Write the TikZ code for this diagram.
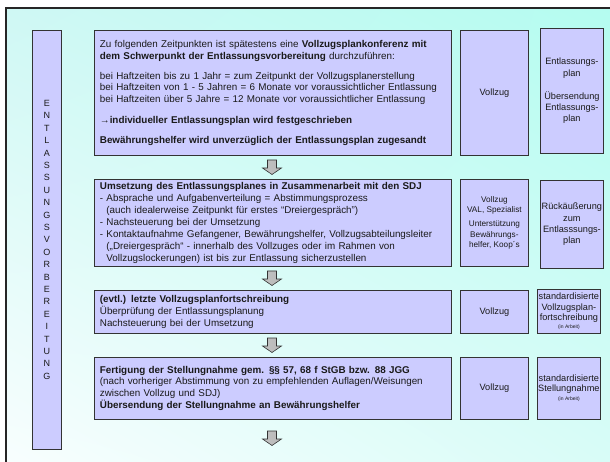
\documentclass[tikz,border=0pt]{standalone}
\usepackage{fontspec}
\setmainfont{Liberation Sans}
\usetikzlibrary{shadings}
\definecolor{boxfill}{HTML}{CCCCFF}
\definecolor{boxline}{HTML}{333333}
\definecolor{txt}{HTML}{1A1A1A}
\definecolor{bgUR}{HTML}{B4FCF0}
\definecolor{bgUL}{HTML}{CFF8F4}
\definecolor{bgLL}{HTML}{F8FEFE}
\definecolor{bgLR}{HTML}{D8FCF7}
\definecolor{arrfill}{HTML}{A8A8A8}
\tikzset{
  box/.style={draw=boxline, line width=0.8pt, fill=boxfill, text=txt, inner sep=0pt, anchor=north west, align=center},
  mainbox/.style={box, text width=346pt, align=left, inner xsep=5.5pt, font=\fontsize{9.85}{11.9}\selectfont},
  sidebox/.style={box, font=\fontsize{9.2}{11.2}\selectfont},
  blockarrow/.style={draw=boxline, line width=0.6pt, left color=arrfill!70, right color=arrfill!110!black, line join=miter}
}
\newcommand{\downarr}[1]{\path[blockarrow] (#1) ++(-4.5,0) -- ++(9,0) -- ++(0,8) -- ++(5,0) -- ++(-9.5,6.5) -- ++(-9.5,-6.5) -- ++(5,0) -- cycle;}
\begin{document}
\begin{tikzpicture}[x=1pt,y=-1pt]
\useasboundingbox (0,0) rectangle (610,462);
\fill[white] (0,0) rectangle (610,462);
\shade[upper left=bgUL, upper right=bgUR, lower left=bgLL, lower right=bgLR] (6,8) rectangle (610,462);
\draw[line width=2pt, black!85] (6,470) -- (6,8) -- (620,8);

% left vertical box
\node[box, minimum width=29pt, minimum height=419pt, font=\fontsize{9}{12.4}\selectfont] (left) at (32,30)
  {E\\N\\T\\L\\A\\S\\S\\U\\N\\G\\S\\V\\O\\R\\B\\E\\R\\E\\I\\T\\U\\N\\G};

% main boxes
\node[mainbox, minimum height=125pt] (m1) at (94,30) {%
Zu folgenden Zeitpunkten ist spätestens eine \textbf{Vollzugsplankonferenz mit}\\
\textbf{dem Schwerpunkt der Entlassungsvorbereitung} durchzuführen:\\[8pt]
bei Haftzeiten bis zu 1 Jahr = zum Zeitpunkt der Vollzugsplanerstellung\\
bei Haftzeiten von 1 - 5 Jahren = 6 Monate vor voraussichtlicher Entlassung\\
bei Haftzeiten über 5 Jahre = 12 Monate vor voraussichtlicher Entlassung\\[9pt]
→\textbf{individueller Entlassungsplan wird festgeschrieben}\\[8pt]
\textbf{Bewährungshelfer wird unverzüglich der Entlassungsplan zugesandt}};

\node[mainbox, minimum height=87pt] (m2) at (94,179) {%
\textbf{Umsetzung des Entlassungsplanes in Zusammenarbeit mit den SDJ}\\
- Absprache und Aufgabenverteilung = Abstimmungsprozess\\
\phantom{-} (auch idealerweise Zeitpunkt für erstes “Dreiergespräch”)\\
- Nachsteuerung bei der Umsetzung\\
- Kontaktaufnahme Gefangener, Bewährungshelfer, Vollzugsabteilungsleiter\\
\phantom{-} („Dreiergespräch“ - innerhalb des Vollzuges oder im Rahmen von\\
\phantom{-} Vollzugslockerungen) ist bis zur Entlassung sicherzustellen};

\node[mainbox, minimum height=43pt] (m3) at (94,290) {%
\textbf{(evtl.) letzte Vollzugsplanfortschreibung}\\
Überprüfung der Entlassungsplanung\\
Nachsteuerung bei der Umsetzung};

\node[mainbox, minimum height=62pt] (m4) at (94,357) {%
\textbf{Fertigung der Stellungnahme gem. §§ 57, 68 f StGB bzw. 88 JGG}\\
(nach vorheriger Abstimmung von zu empfehlenden Auflagen/Weisungen\\
zwischen Vollzug und SDJ)\\
\textbf{Übersendung der Stellungnahme an Bewährungshelfer}};

% Vollzug boxes
\node[sidebox, minimum width=68pt, minimum height=125pt] (v1) at (460,30) {Vollzug};
\node[sidebox, minimum width=68pt, minimum height=87pt, font=\fontsize{8.2}{10.3}\selectfont] (v2) at (460,179)
  {Vollzug\\VAL, Spezialist\\[3.5pt]Unterstützung\\Bewährungs-\\helfer, Koop´s};
\node[sidebox, minimum width=68pt, minimum height=43pt] (v3) at (460,290) {Vollzug};
\node[sidebox, minimum width=68pt, minimum height=62pt] (v4) at (460,357) {Vollzug};

% right boxes
\node[sidebox, minimum width=63pt, minimum height=125pt] (r1) at (540,28)
  {Entlassungs-\\plan\\[12pt]Übersendung\\Entlassungs-\\plan};
\node[sidebox, minimum width=63pt, minimum height=88pt] (r2) at (540,180)
  {Rückäußerung\\zum\\Entlasssungs-\\plan};
\node[sidebox, minimum width=63pt, minimum height=44pt, font=\fontsize{9.2}{10.2}\selectfont] (r3) at (537,289)
  {standardisierte\\Vollzugsplan-\\fortschreibung\\[-2pt]{\fontsize{5}{6}\selectfont (in Arbeit)}};
\node[sidebox, minimum width=63pt, minimum height=62pt, font=\fontsize{9.2}{10.2}\selectfont] (r4) at (537,357)
  {standardisierte\\Stellungnahme\\[-1pt]{\fontsize{5}{6}\selectfont (in Arbeit)}};

% block arrows
\coordinate (a1) at (272,160);
\coordinate (a2) at (272,271);
\coordinate (a3) at (272,338);
\coordinate (a4) at (272,431);
\downarr{a1}
\downarr{a2}
\downarr{a3}
\downarr{a4}
\end{tikzpicture}
\end{document}
